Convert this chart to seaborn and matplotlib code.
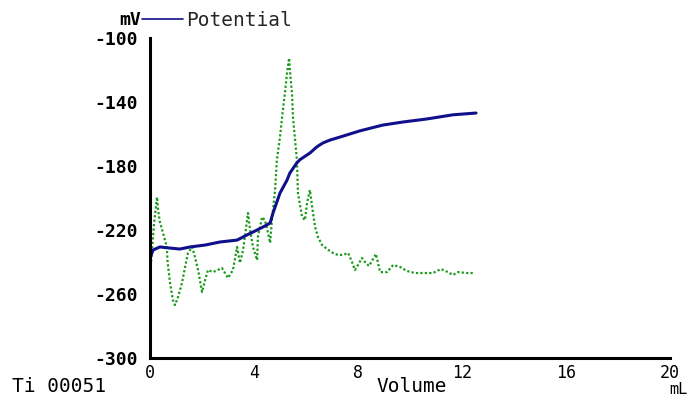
import matplotlib
matplotlib.use("Agg")
import matplotlib.pyplot as plt
import seaborn as sns
import pandas as pd

# Potential curve (mL, mV)
pot_volume = [0.0, 0.12, 0.38, 0.77, 1.15, 1.54, 2.12, 2.69, 3.35, 3.73, 4.12, 4.42, 4.62,
              4.73, 5.0, 5.27, 5.38, 5.65, 5.77, 6.15, 6.42, 6.65, 6.92, 7.31, 8.08, 8.96,
              9.73, 10.65, 11.65, 12.54]
pot_mv = [-237.5, -232.5, -230.6, -231.3, -231.9, -230.6, -229.4, -227.5, -226.3, -223.1,
          -220.0, -217.5, -215.6, -209.4, -196.9, -188.8, -184.4, -178.0, -176.0, -171.9,
          -168.0, -165.6, -163.8, -161.9, -158.0, -154.4, -152.5, -150.6, -148.0, -146.9]

# First-derivative trace (dotted green), plotted on the same scale
der_volume = [0.0, 0.08, 0.15, 0.27, 0.31, 0.38, 0.5, 0.65, 0.67, 0.77, 0.88, 0.96, 1.08,
              1.23, 1.35, 1.46, 1.62, 1.73, 1.85, 2.0, 2.12, 2.23, 2.42, 2.77, 3.0, 3.19,
              3.35, 3.46, 3.58, 3.77, 3.85, 3.96, 4.12, 4.15, 4.31, 4.42, 4.54, 4.62, 4.69,
              4.81, 4.88, 5.0, 5.08, 5.19, 5.27, 5.35, 5.38, 5.46, 5.5, 5.58, 5.65, 5.69,
              5.85, 5.96, 6.04, 6.15, 6.27, 6.35, 6.46, 6.62, 6.81, 7.04, 7.23, 7.42, 7.62,
              7.77, 7.88, 7.96, 8.15, 8.27, 8.42, 8.58, 8.69, 8.77, 8.85, 9.12, 9.35, 9.62,
              9.88, 10.19, 10.65, 10.88, 11.19, 11.46, 11.65, 11.85, 12.19, 12.42]
der_value = [-248.1, -232.5, -216.9, -199.4, -207.5, -215.0, -221.9, -230.6, -238.8, -253.1,
             -263.8, -266.9, -261.9, -253.1, -243.1, -234.4, -230.6, -236.9, -245.0, -258.8,
             -251.3, -245.0, -246.3, -243.8, -250.0, -245.0, -230.6, -240.6, -232.5, -209.4,
             -220.0, -230.6, -238.8, -224.4, -211.9, -213.8, -221.9, -228.1, -213.8, -195.0,
             -176.3, -161.9, -149.4, -134.4, -121.9, -112.5, -120.0, -134.4, -149.4, -163.8,
             -176.3, -196.9, -211.9, -213.8, -203.1, -195.0, -209.4, -218.1, -224.4, -229.4,
             -231.9, -234.4, -235.6, -235.6, -234.4, -240.0, -245.0, -243.1, -237.5, -240.0,
             -242.5, -238.1, -235.0, -240.6, -246.3, -246.3, -241.9, -243.1, -245.6, -246.9,
             -246.9, -246.9, -244.4, -246.3, -248.1, -246.3, -246.9, -246.9]

x_ticks = [0, 4, 8, 12, 16, 20]
y_ticks = [-300, -260, -220, -180, -140, -100]

sns.set_theme(style="white")
plt.rcParams["font.family"] = ["DejaVu Sans Mono", "DejaVu Sans"]
plt.rcParams["axes.unicode_minus"] = False

fig = plt.figure(figsize=(6.93, 3.96), dpi=100)
ax = fig.add_axes([150 / 693, 38 / 396, 520 / 693, 320 / 396])

pot_df = pd.DataFrame({"Volume": pot_volume, "mV": pot_mv})
der_df = pd.DataFrame({"Volume": der_volume, "mV": der_value})

sns.lineplot(data=der_df, x="Volume", y="mV", ax=ax, color="#1a9a1a",
             linestyle=(0, (1, 1.0)), linewidth=1.6, sort=False, label="_nolegend_")
sns.lineplot(data=pot_df, x="Volume", y="mV", ax=ax, color="#10108c",
             linewidth=2.2, sort=False, label="Potential")

ax.set_xlim(0, 20)
ax.set_ylim(-300, -100)
ax.set_xticks(x_ticks)
ax.set_yticks(y_ticks)
ax.set_xticklabels([str(t) for t in x_ticks])
ax.set_yticklabels([str(t) for t in y_ticks])
ax.set_xlabel("")
ax.set_ylabel("")

for side in ["top", "right"]:
    ax.spines[side].set_visible(False)
for side in ["left", "bottom"]:
    ax.spines[side].set_color("black")
    ax.spines[side].set_linewidth(2.2)

ax.tick_params(axis="both", which="major", direction="inout", length=9, width=1.6,
               color="black", labelcolor="black")
ax.tick_params(axis="y", pad=4, labelsize=13)
ax.tick_params(axis="x", pad=0, labelsize=12)
for lbl in ax.get_yticklabels():
    lbl.set_fontweight("bold")

leg = ax.legend(loc="center left", bbox_to_anchor=(142 / 693, 1 - 20 / 396),
                bbox_transform=fig.transFigure, frameon=False, borderpad=0,
                borderaxespad=0, handlelength=2.1, handletextpad=0.15,
                prop={"family": "DejaVu Sans Mono", "size": 14})
for line in leg.get_lines():
    line.set_linewidth(1.2)

fig.text(141 / 693, 1 - 20 / 396, "mV", ha="right", va="center", fontsize=13,
         fontweight="bold", color="black")
fig.text(12 / 693, 1 - 387 / 396, "Ti 00051", ha="left", va="center", fontsize=14,
         color="black")
fig.text(412 / 693, 1 - 387 / 396, "Volume", ha="center", va="center", fontsize=14,
         color="black")
fig.text(688 / 693, 1 - 389 / 396, "mL", ha="right", va="center", fontsize=11,
         color="black")

fig.savefig("out.png", dpi=100, facecolor="white")
